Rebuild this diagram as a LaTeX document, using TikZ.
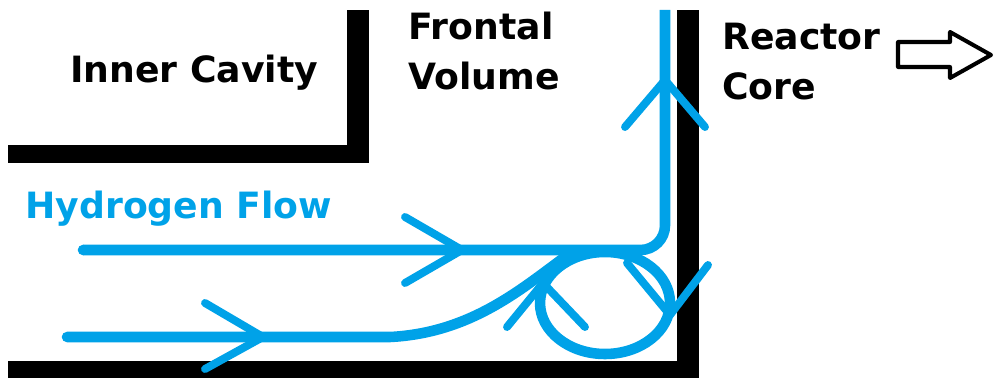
\documentclass[tikz,border=0pt]{standalone}
\usepackage{fontspec}
\setmainfont{DejaVu Sans}
\definecolor{flowblue}{RGB}{0,162,232}

\begin{document}
\begin{tikzpicture}[x=0.02cm,y=-0.02cm,
  wall/.style={fill=black},
  flow/.style={draw=flowblue,line width=6pt,line cap=round,line join=round},
  chev/.style={draw=flowblue,line width=4.5pt,line cap=round,line join=round},
  lbl/.style={anchor=base west,inner sep=0pt,font=\bfseries\fontsize{20.6}{24}\selectfont}]
\useasboundingbox (0,0) rectangle (996,378);
\fill[wall] (8,145) rectangle (369,163); \fill[wall] (347,10) rectangle (369,163);
\fill[wall] (8,361) rectangle (699,378); \fill[wall] (677,10) rectangle (699,378);
\node[lbl] (cavity) at (70,83) {Inner Cavity};
\node[lbl] (frontal) at (408,40) {Frontal}; \node[lbl] (volume) at (408,90) {Volume};
\node[lbl] (reactor) at (722,50) {Reactor}; \node[lbl] (core) at (722,100) {Core};
\node[lbl,text=flowblue] (hflow) at (25,218) {Hydrogen Flow};
\coordinate (upin) at (83,250); \coordinate (lowin) at (67,337); \coordinate (merge) at (565,257); \coordinate (out) at (665,10);
\draw[flow,rounded corners=14pt,line cap=butt] (upin) -- (665,250) -- (out); \fill[flowblue] (upin) circle (3pt);
\draw[flow] (lowin) -- (390,337) .. controls (470,333) and (520,290) .. (merge);
\draw[flow] (605,303) ellipse [x radius=65,y radius=51];
\draw[chev] (405,217) -- (462,250) -- (405,283); \draw[chev] (205,303) -- (263,337) -- (205,369);
\draw[chev] (507,327) -- (543,283) -- (585,327); \draw[chev] (627,263) -- (670,315) -- (708,265);
\draw[chev] (625,127) -- (665,80) -- (705,127);
\draw[line width=2.3pt,line join=round] (898,42) -- (950,42) -- (950,32) -- (991,55) -- (950,78) -- (950,67) -- (898,67) -- cycle;
\end{tikzpicture}
\end{document}
